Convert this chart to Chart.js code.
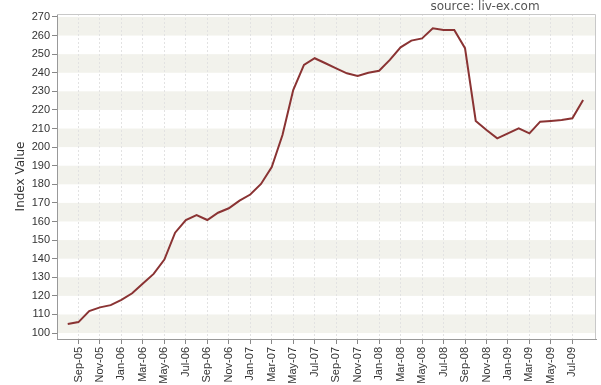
<!DOCTYPE html>
<html>
<head>
<meta charset="utf-8">
<script src="https://cdn.jsdelivr.net/npm/chart.js@4"></script>
<style>
  html, body { margin: 0; padding: 0; background: #fff; }
  #wrap { width: 601px; height: 385px; position: relative; }
</style>
</head>
<body>
<div id="wrap"><canvas id="chart"></canvas></div>
<script>
// monthly Liv-ex index, Aug-05 .. Aug-09
const months = [
  "Aug-05", "Sep-05", "Oct-05", "Nov-05", "Dec-05",
  "Jan-06", "Feb-06", "Mar-06", "Apr-06", "May-06", "Jun-06", "Jul-06", "Aug-06", "Sep-06", "Oct-06", "Nov-06", "Dec-06",
  "Jan-07", "Feb-07", "Mar-07", "Apr-07", "May-07", "Jun-07", "Jul-07", "Aug-07", "Sep-07", "Oct-07", "Nov-07", "Dec-07",
  "Jan-08", "Feb-08", "Mar-08", "Apr-08", "May-08", "Jun-08", "Jul-08", "Aug-08", "Sep-08", "Oct-08", "Nov-08", "Dec-08",
  "Jan-09", "Feb-09", "Mar-09", "Apr-09", "May-09", "Jun-09", "Jul-09", "Aug-09",
];
const indexValues = [
  104.9, 105.9, 111.8, 113.8, 115.0,
  117.8, 121.4, 126.7, 131.8, 139.5, 154.0, 160.8, 163.5, 160.8, 164.7, 167.1, 171.2,
  174.5, 180.2, 189.3, 206.5, 230.7, 244.2, 247.8, 245.1, 242.4, 239.7, 238.3, 240.0,
  241.1, 246.9, 253.7, 257.3, 258.5, 263.9, 263.0, 263.0, 253.2, 214.1, 209.2, 204.7,
  207.4, 210.1, 207.4, 213.7, 214.1, 214.6, 215.5, 225.4,
];
// every other month gets a label, starting Sep-05
const xTickIdx = months.map((m, i) => i).filter((i) => i % 2 === 1);
const yTicks = [100, 110, 120, 130, 140, 150, 160, 170, 180, 190, 200, 210, 220, 230, 240, 250, 260, 270];
const bandStarts = [100, 120, 140, 160, 180, 200, 220, 240, 260];

const FONT = "'Liberation Sans', Arial, sans-serif";
const TITLE_FONT = "'DejaVu Sans', sans-serif";

const bands = {
  id: "bands",
  beforeDraw(chart) {
    const { ctx, chartArea: a, scales } = chart;
    ctx.save();
    ctx.fillStyle = "#f2f2ec";
    bandStarts.forEach((b) => {
      const y1 = scales.y.getPixelForValue(b + 10);
      const y0 = scales.y.getPixelForValue(b);
      ctx.fillRect(a.left, y1, a.right - a.left, y0 - y1);
    });
    ctx.restore();
  },
  afterDraw(chart) {
    const { ctx, chartArea: a } = chart;
    ctx.save();
    ctx.strokeStyle = "#c8c8c8";
    ctx.lineWidth = 1;
    ctx.beginPath();
    ctx.moveTo(a.left, a.top + 0.5);
    ctx.lineTo(a.right - 0.5, a.top + 0.5);
    ctx.lineTo(a.right - 0.5, a.bottom);
    ctx.stroke();
    ctx.fillStyle = "#555";
    ctx.font = "12px " + TITLE_FONT;
    ctx.textAlign = "center";
    ctx.textBaseline = "middle";
    ctx.fillText("source: liv-ex.com", 485, 7);
    ctx.restore();
  },
};

new Chart(document.getElementById("chart"), {
  type: "line",
  data: {
    datasets: [
      {
        data: indexValues.map((v, i) => ({ x: i, y: v })),
        borderColor: "#8a3333",
        borderWidth: 2,
        pointRadius: 0,
        tension: 0,
      },
    ],
  },
  options: {
    responsive: true,
    maintainAspectRatio: false,
    animation: false,
    layout: { padding: { top: 14, right: 5, left: 0, bottom: 0 } },
    plugins: { legend: { display: false }, tooltip: { enabled: false } },
    scales: {
      x: {
        type: "linear",
        min: -1,
        max: 49.2,
        afterBuildTicks: (s) => { s.ticks = xTickIdx.map((v) => ({ value: v })); },
        afterFit: (s) => { s.height = 46; },
        ticks: {
          autoSkip: false,
          minRotation: 90,
          maxRotation: 90,
          color: "#333",
          padding: 3,
          font: { family: FONT, size: 11 },
          callback: (v) => months[v],
        },
        grid: { color: "#e2e2e2", tickColor: "#888", tickLength: 5, tickBorderDash: [] },
        border: { display: true, color: "#999", dash: [2, 2] },
      },
      y: {
        min: 96.8,
        max: 271.6,
        afterBuildTicks: (s) => { s.ticks = yTicks.map((v) => ({ value: v })); },
        afterFit: (s) => { s.width = 57; },
        ticks: { color: "#333", padding: 2, font: { family: FONT, size: 11 } },
        grid: { drawOnChartArea: false, tickColor: "#888", tickLength: 5 },
        border: { display: true, color: "#999" },
        title: {
          display: true,
          text: "Index Value",
          color: "#333",
          padding: { top: 14, bottom: 0 },
          font: { family: TITLE_FONT, size: 12 },
        },
      },
    },
  },
  plugins: [bands],
});
</script>
</body>
</html>
